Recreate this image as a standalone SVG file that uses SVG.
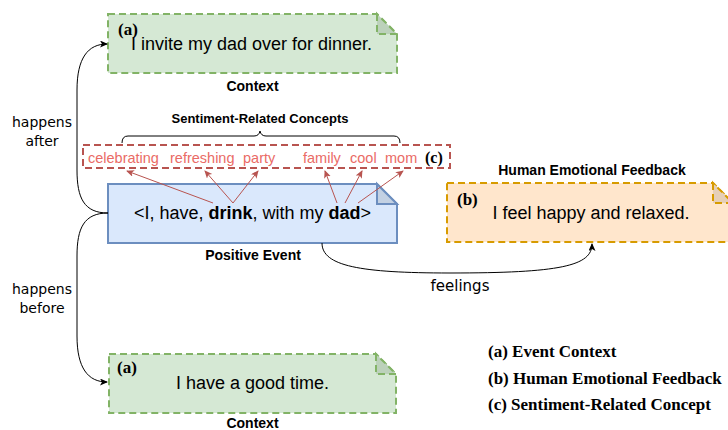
<svg xmlns="http://www.w3.org/2000/svg" width="728" height="430" viewBox="0 0 728 430">
<style>
.main{font-family:"Liberation Sans",Arial,sans-serif;font-size:18px;fill:#000}
.lbl{font-family:"Liberation Sans",Arial,sans-serif;font-size:14px;font-weight:bold;fill:#000}
.tag{font-family:"Liberation Serif","Times New Roman",serif;font-size:17px;font-weight:bold;fill:#000}
.hand{font-family:"Comic Sans MS","DejaVu Sans",sans-serif;font-size:14px;fill:#000}
.concept{font-family:"Liberation Sans",Arial,sans-serif;font-size:14.5px;fill:#ea6b66}
.green{fill:#d5e8d4;stroke:#82b366;stroke-width:2;stroke-dasharray:7 4}
.greenfold{fill:#bcd1bb;stroke:#82b366;stroke-width:2;stroke-dasharray:7 4}
.blue{fill:#dae8fc;stroke:#6c8ebf;stroke-width:2}
.bluefold{fill:#c3d1e3;stroke:#6c8ebf;stroke-width:2}
.orange{fill:#ffe6cc;stroke:#d79b00;stroke-width:2;stroke-dasharray:7 4}
.orangefold{fill:#e6cfb8;stroke:#d79b00;stroke-width:2;stroke-dasharray:7 4}
.conn{fill:none;stroke:#000;stroke-width:1}
.red{fill:none;stroke:#b85450;stroke-width:1}
</style>
<defs>
<marker id="ab" markerWidth="8" markerHeight="8" refX="7" refY="3.5" orient="auto" markerUnits="userSpaceOnUse">
<path d="M0,0 L8,3.5 L0,7 L2,3.5 z" fill="#000"/>
</marker>
<marker id="ar" markerWidth="8" markerHeight="8" refX="7" refY="3.5" orient="auto" markerUnits="userSpaceOnUse">
<path d="M0,0 L8,3.5 L0,7 L2,3.5 z" fill="#b85450"/>
</marker>
</defs>

<g id="context-top">
<path class="green" d="M108,14 L377,14 L397,34 L397,73 L108,73 Z"/>
<path class="greenfold" d="M377,14 L377,34 L397,34 Z"/>
<text class="tag" x="118" y="35">(a)</text>
<text class="main" x="251.5" y="50" text-anchor="middle">I invite my dad over for dinner.</text>
<text class="lbl" x="252.5" y="91" text-anchor="middle">Context</text>
</g>

<g id="concepts">
<text class="lbl" x="260" y="123" text-anchor="middle" style="font-size:13px">Sentiment-Related Concepts</text>
<path class="conn" d="M122,143 Q122,136 128,136 L254,136 Q259,136 260,131 Q261,136 266,136 L394,136 Q400,136 400,143"/>
<rect x="83" y="145" width="367" height="23" fill="none" stroke="#b85450" stroke-width="2" stroke-dasharray="7 4"/>
<text class="concept" x="88" y="163">celebrating</text>
<text class="concept" x="170" y="163">refreshing</text>
<text class="concept" x="243" y="163">party</text>
<text class="concept" x="303" y="163">family</text>
<text class="concept" x="350" y="163">cool</text>
<text class="concept" x="385" y="163">mom</text>
<text class="tag" x="425" y="163" style="font-size:16px">(c)</text>
</g>

<g id="event">
<path class="blue" d="M108,184 L377,184 L397,204 L397,243 L108,243 Z"/>
<path class="bluefold" d="M377,184 L377,204 L397,204 Z"/>
<text class="main" x="252.5" y="219" text-anchor="middle">&lt;I, have, <tspan font-weight="bold">drink</tspan>, with my <tspan font-weight="bold">dad</tspan>&gt;</text>
<text class="lbl" x="253" y="260" text-anchor="middle">Positive Event</text>
</g>

<g id="feedback">
<text class="lbl" x="592" y="175" text-anchor="middle">Human Emotional Feedback</text>
<path class="orange" d="M447,183 L713,183 L733,203 L733,242 L447,242 Z"/>
<path class="orangefold" d="M713,183 L713,203 L733,203 Z"/>
<text class="tag" x="457" y="205">(b)</text>
<text class="main" x="591" y="219" text-anchor="middle">I feel happy and relaxed.</text>
</g>

<g id="context-bottom">
<path class="green" d="M109,354 L376,354 L396,374 L396,413 L109,413 Z"/>
<path class="greenfold" d="M376,354 L376,374 L396,374 Z"/>
<text class="tag" x="117" y="373">(a)</text>
<text class="main" x="252.5" y="389" text-anchor="middle">I have a good time.</text>
<text class="lbl" x="252.5" y="428" text-anchor="middle">Context</text>
</g>

<g id="legend">
<text class="tag" x="488" y="357">(a) Event Context</text>
<text class="tag" x="488" y="384">(b) Human Emotional Feedback</text>
<text class="tag" x="488" y="410">(c) Sentiment-Related Concept</text>
</g>

<g id="connectors">
<path class="conn" d="M108,213 C84,213 77,198 77,170 L77,90 C77,58 88,44 107,44" marker-end="url(#ab)"/>
<path class="conn" d="M108,213 C84,213 77,228 77,256 L77,336 C77,368 88,382 107,382" marker-end="url(#ab)"/>
<path class="conn" d="M322,243 C322,266 360,273 450,273 C560,273 592,266 592,244" marker-end="url(#ab)"/>
<line class="red" x1="213" y1="203" x2="127" y2="171" marker-end="url(#ar)"/>
<line class="red" x1="233" y1="203" x2="205" y2="171" marker-end="url(#ar)"/>
<line class="red" x1="233" y1="203" x2="258" y2="171" marker-end="url(#ar)"/>
<line class="red" x1="337" y1="203" x2="325" y2="171" marker-end="url(#ar)"/>
<line class="red" x1="345" y1="203" x2="362" y2="171" marker-end="url(#ar)"/>
<line class="red" x1="358" y1="203" x2="403" y2="171" marker-end="url(#ar)"/>
<text class="hand" x="42" y="127" text-anchor="middle">happens</text>
<text class="hand" x="42" y="146" text-anchor="middle">after</text>
<text class="hand" x="42" y="294" text-anchor="middle">happens</text>
<text class="hand" x="42" y="313" text-anchor="middle">before</text>
<text class="hand" x="460" y="291" text-anchor="middle" style="font-size:15px">feelings</text>
</g>
</svg>
